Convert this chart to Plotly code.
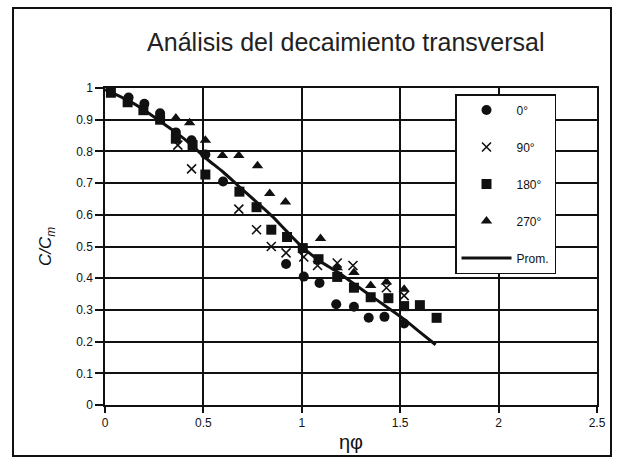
import plotly.graph_objects as go

# ---- data ----
x_0 = [0.12, 0.20, 0.28, 0.36, 0.44, 0.51, 0.60, 0.92, 1.01, 1.09, 1.175, 1.265, 1.34, 1.42, 1.52]
y_0 = [0.97, 0.95, 0.92, 0.86, 0.835, 0.79, 0.705, 0.445, 0.405, 0.385, 0.318, 0.31, 0.275, 0.278, 0.257]

x_90 = [0.37, 0.44, 0.68, 0.77, 0.845, 0.92, 1.01, 1.08, 1.18, 1.26, 1.43, 1.52]
y_90 = [0.82, 0.745, 0.618, 0.553, 0.50, 0.48, 0.467, 0.44, 0.448, 0.44, 0.37, 0.345]

x_180 = [0.03, 0.115, 0.195, 0.28, 0.36, 0.445, 0.51, 0.683, 0.77, 0.845, 0.925, 1.005,
         1.085, 1.18, 1.265, 1.35, 1.44, 1.52, 1.60, 1.685]
y_180 = [0.985, 0.955, 0.93, 0.90, 0.84, 0.82, 0.727, 0.673, 0.624, 0.553, 0.53, 0.495,
         0.46, 0.404, 0.37, 0.34, 0.337, 0.312, 0.315, 0.275]

x_270 = [0.36, 0.43, 0.51, 0.597, 0.68, 0.775, 0.837, 0.917, 1.095, 1.18, 1.265, 1.35, 1.43, 1.52]
y_270 = [0.905, 0.89, 0.835, 0.787, 0.787, 0.755, 0.667, 0.64, 0.525, 0.433, 0.418, 0.377, 0.388, 0.365]

x_prom = [0.0, 0.12, 0.20, 0.28, 0.36, 0.44, 0.51, 0.60, 0.68, 0.77, 0.85, 0.92, 1.00,
          1.09, 1.18, 1.27, 1.35, 1.43, 1.52, 1.60, 1.68]
y_prom = [0.995, 0.96, 0.93, 0.895, 0.86, 0.82, 0.78, 0.735, 0.69, 0.64, 0.595, 0.55, 0.50,
          0.455, 0.42, 0.38, 0.345, 0.31, 0.27, 0.23, 0.19]

names = ["0°", "90°", "180°", "270°", "Prom."]
x_ticks = [0, 0.5, 1, 1.5, 2, 2.5]
y_ticks = [0, 0.1, 0.2, 0.3, 0.4, 0.5, 0.6, 0.7, 0.8, 0.9, 1]

FONT = "Liberation Sans, Arial, Helvetica, sans-serif"
BLK = "#111111"

fig = go.Figure()
fig.add_trace(go.Scatter(x=x_0, y=y_0, mode="markers", name=names[0], legendgroup="a",
                         marker=dict(symbol="circle", size=10, color=BLK)))
fig.add_trace(go.Scatter(x=x_90, y=y_90, mode="markers", name=names[1], legendgroup="b",
                         marker=dict(symbol="x-thin", size=9, color=BLK,
                                     line=dict(width=1.6, color=BLK))))
fig.add_trace(go.Scatter(x=x_180, y=y_180, mode="markers", name=names[2], legendgroup="c",
                         marker=dict(symbol="square", size=10, color=BLK)))
fig.add_trace(go.Scatter(x=x_270, y=y_270, mode="markers", name=names[3], legendgroup="d",
                         marker=dict(symbol="triangle-up", size=10, color=BLK)))
fig.add_trace(go.Scatter(x=x_prom, y=y_prom, mode="lines", name=names[4], legendgroup="e",
                         line=dict(color=BLK, width=3, shape="spline")))

L, R, T, B = 105, 25, 88, 59
W, H = 622, 464
pw, ph = W - L - R, H - T - B

def px_x(p):
    return (p - L) / pw

def px_y(p):
    return (H - B - p) / ph

fig.update_layout(
    width=W, height=H,
    margin=dict(l=L, r=R, t=T, b=B),
    paper_bgcolor="white", plot_bgcolor="white",
    font=dict(family=FONT, color=BLK, size=12),
    title=dict(text="Análisis del decaimiento transversal", x=0.556, xanchor="center",
               y=1 - 42 / H, yanchor="middle", font=dict(size=25, color="#222")),
    showlegend=True,
    legend=dict(x=px_x(455), y=px_y(94), xanchor="left", yanchor="top",
                bgcolor="white", bordercolor=BLK, borderwidth=1.5,
                tracegroupgap=18, itemwidth=50, font=dict(size=12),
                entrywidth=75),
    shapes=[dict(type="rect", xref="paper", yref="paper",
                 x0=px_x(13), x1=px_x(611), y0=px_y(456), y1=px_y(8),
                 line=dict(color=BLK, width=2), layer="below")],
)

fig.update_xaxes(range=[0, 2.5], tickvals=x_ticks, ticktext=[str(v) for v in x_ticks],
                 showgrid=True, gridcolor=BLK, gridwidth=1.5,
                 showline=True, linecolor=BLK, linewidth=1.5, mirror=True,
                 ticks="outside", ticklen=6, tickcolor=BLK, tickwidth=1.5,
                 zeroline=False, tickfont=dict(size=12),
                 title=dict(text="ηφ", font=dict(size=20), standoff=6))
fig.update_yaxes(range=[0, 1], tickvals=y_ticks, ticktext=[str(v) for v in y_ticks],
                 showgrid=True, gridcolor=BLK, gridwidth=1.5,
                 showline=True, linecolor=BLK, linewidth=1.5, mirror=True,
                 ticks="outside", ticklen=8, tickcolor=BLK, tickwidth=1.5,
                 zeroline=False, tickfont=dict(size=12),
                 title=dict(text="<i>C/C<sub>m</sub></i>", font=dict(size=17), standoff=20))

fig.write_html("out.html")
